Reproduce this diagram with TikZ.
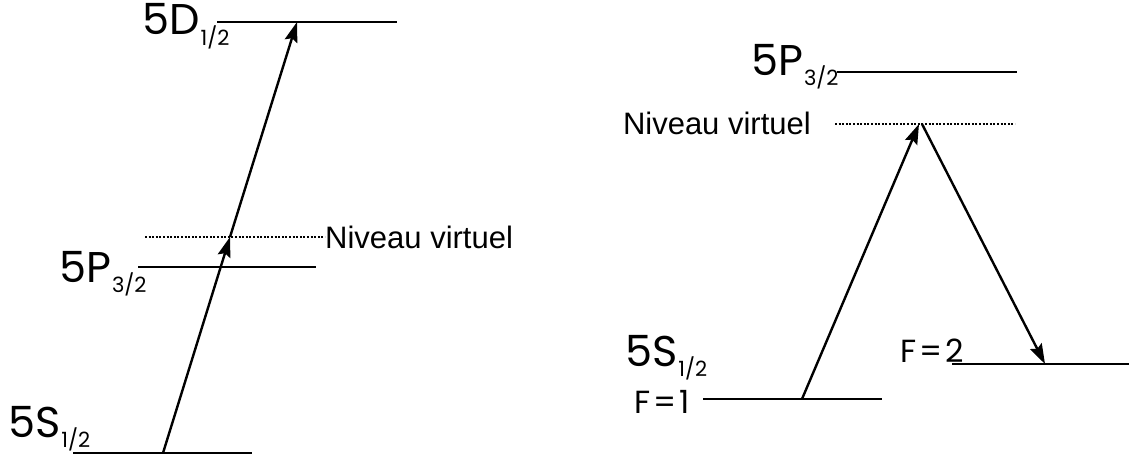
\documentclass[tikz,border=0pt]{standalone}
\usepackage{fontspec}
\setmainfont{Liberation Sans}
\newfontfamily\gothic{Poppins}
\usetikzlibrary{arrows.meta,positioning}

\newcommand{\lvlsub}[1]{\kern1pt\raisebox{-10pt}{\fontsize{21}{21}\selectfont #1}}
\newcommand{\feq}[1]{F\kern3pt=\kern3pt#1}

\begin{document}
\begin{tikzpicture}[x=1pt,y=-1pt,
    level/.style={line width=2.8pt},
    virt/.style={line width=2pt,dash pattern=on 2pt off 1.6pt},
    photon/.style={line width=2.4pt,-{Stealth[length=20pt,width=13pt,inset=3pt]}},
    lbl/.style={font=\gothic\fontsize{43}{43}\selectfont,inner sep=0pt,anchor=base west},
    flbl/.style={font=\gothic\fontsize{32}{32}\selectfont,inner sep=0pt,anchor=base west},
    txt/.style={font=\fontsize{31}{31}\selectfont,inner sep=0pt}]
  \useasboundingbox (0,0) rectangle (1129,460);

  % two-photon scheme
  \coordinate (sL) at (163,453);
  \coordinate (vL) at (230,237);
  \coordinate (dL) at (297,22);
  \draw[level] (217,22) -- (397,22);
  \draw[level] (138,267) -- (316,267);
  \draw[level] (73,453) -- (252,453);
  \node[txt,anchor=west] (nvL) at (325,237) {Niveau virtuel};
  \draw[virt] (145,237) -- (nvL.west);
  \node[lbl] (d5) at (142,35) {5D\lvlsub{1/2}};
  \node[lbl] (p5L) at (59,282) {5P\lvlsub{3/2}};
  \node[lbl] (s5L) at (8,437) {5S\lvlsub{1/2}};
  \draw[photon] (sL) -- (vL);
  \draw[photon] (vL) -- (dL);

  % Raman scheme
  \coordinate (f1) at (802,399);
  \coordinate (vR) at (919,124);
  \coordinate (vR2) at (922,124);
  \coordinate (f2) at (1045,364);
  \draw[level] (837,72) -- (1017,72);
  \draw[level] (703,399) -- (882,399);
  \draw[level] (952,364) -- (1129,364);
  \node[txt,anchor=east] (nvR) at (811,123) {Niveau virtuel};
  \draw[virt] (835,124) -- (1015,124);
  \node[lbl] (p5R) at (751,75) {5P\lvlsub{3/2}};
  \node[lbl] (s5R) at (625,366) {5S\lvlsub{1/2}};
  \node[flbl] (lf1) at (634,413) {\feq{1}};
  \node[flbl] (lf2) at (900,362) {\feq{2}};
  \draw[photon] (f1) -- (vR);
  \draw[photon] (vR2) -- (f2);
\end{tikzpicture}
\end{document}
